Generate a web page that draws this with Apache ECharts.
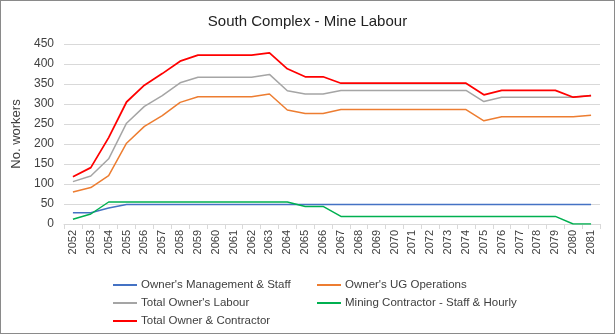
<!DOCTYPE html>
<html><head><meta charset="utf-8">
<script src="https://cdn.jsdelivr.net/npm/echarts@6/dist/echarts.min.js"></script>
<style>
html,body{margin:0;padding:0;background:#fff;}
#c{width:615px;height:334px;box-sizing:border-box;border:1px solid #8a8a8a;}
</style></head>
<body><div id="c"></div>
<script>
const years = ['2052','2053','2054','2055','2056','2057','2058','2059','2060','2061','2062','2063','2064','2065','2066','2067','2068','2069','2070','2071','2072','2073','2074','2075','2076','2077','2078','2079','2080','2081'];
const ownersMgmt = [28,28,40,49,49,49,49,49,49,49,49,49,49,49,49,49,49,49,49,49,49,49,49,49,49,49,49,49,49,49];
const ownersUG = [80,91,121,202,244,271,304,318,318,318,318,325,285,276,276,286,286,286,286,286,286,286,286,258,268,268,268,268,268,272];
const totalOwners = [106,120,163,252,294,321,353,367,367,367,367,374,333,325,325,334,334,334,334,334,334,334,334,306,317,317,317,317,317,321];
const contractor = [12,25,55,55,55,55,55,55,55,55,55,55,55,44,44,19,19,19,19,19,19,19,19,19,19,19,19,19,0,0];
const totalAll = [118,141,216,305,347,376,407,422,422,422,422,428,388,368,368,352,352,352,352,352,352,352,352,323,334,334,334,334,317,321];
const yTicks = {min:0, max:450, interval:50};

const chart = echarts.init(document.getElementById('c'));
const font = 'Liberation Sans, Arial, sans-serif';
function s(name, data, color, w){
  return {name, type:'line', data, symbol:'none', lineStyle:{color, width:w}, itemStyle:{color}};
}
const legendCommon = {orient:'vertical', top:273, itemGap:6, itemWidth:24, itemHeight:10,
  icon:'path://M0,4 L24,4 L24,6 L0,6 Z',
  textStyle:{fontFamily:font, fontSize:11.5, color:'#404040', padding:[0,0,0,-1]}};
chart.setOption({
  animation:false,
  title:{text:'South Complex - Mine Labour', left:'center', top:8,
    textStyle:{fontFamily:font, fontSize:15, fontWeight:'normal', color:'#222'}},
  grid:{left:63, right:14, top:43, bottom:109},
  xAxis:{type:'category', data:years, boundaryGap:true,
    axisLine:{lineStyle:{color:'#d9d9d9'}},
    axisTick:{show:true, lineStyle:{color:'#d9d9d9'}, length:5},
    axisLabel:{rotate:90, fontFamily:font, fontSize:11, color:'#404040', margin:6}},
  yAxis:{type:'value', min:yTicks.min, max:yTicks.max, interval:yTicks.interval,
    name:'No. workers', nameLocation:'middle', nameGap:30,
    nameTextStyle:{fontFamily:font, fontSize:13, color:'#404040'},
    axisLine:{show:false}, axisTick:{show:false},
    splitLine:{lineStyle:{color:'#d9d9d9'}},
    axisLabel:{fontFamily:font, fontSize:12, color:'#404040', margin:10}},
  legend:[
    Object.assign({data:["Owner's Management & Staff","Total Owner's Labour","Total Owner & Contractor"], left:107}, legendCommon),
    Object.assign({data:["Owner's UG Operations","Mining Contractor - Staff & Hourly"], left:311}, legendCommon)
  ],
  series:[
    s("Owner's Management & Staff", ownersMgmt, '#4472C4', 1.5),
    s("Owner's UG Operations", ownersUG, '#ED7D31', 1.5),
    s("Total Owner's Labour", totalOwners, '#A5A5A5', 1.5),
    s("Mining Contractor - Staff & Hourly", contractor, '#00B050', 1.5),
    s("Total Owner & Contractor", totalAll, '#FF0000', 1.75)
  ]
});
</script></body></html>
